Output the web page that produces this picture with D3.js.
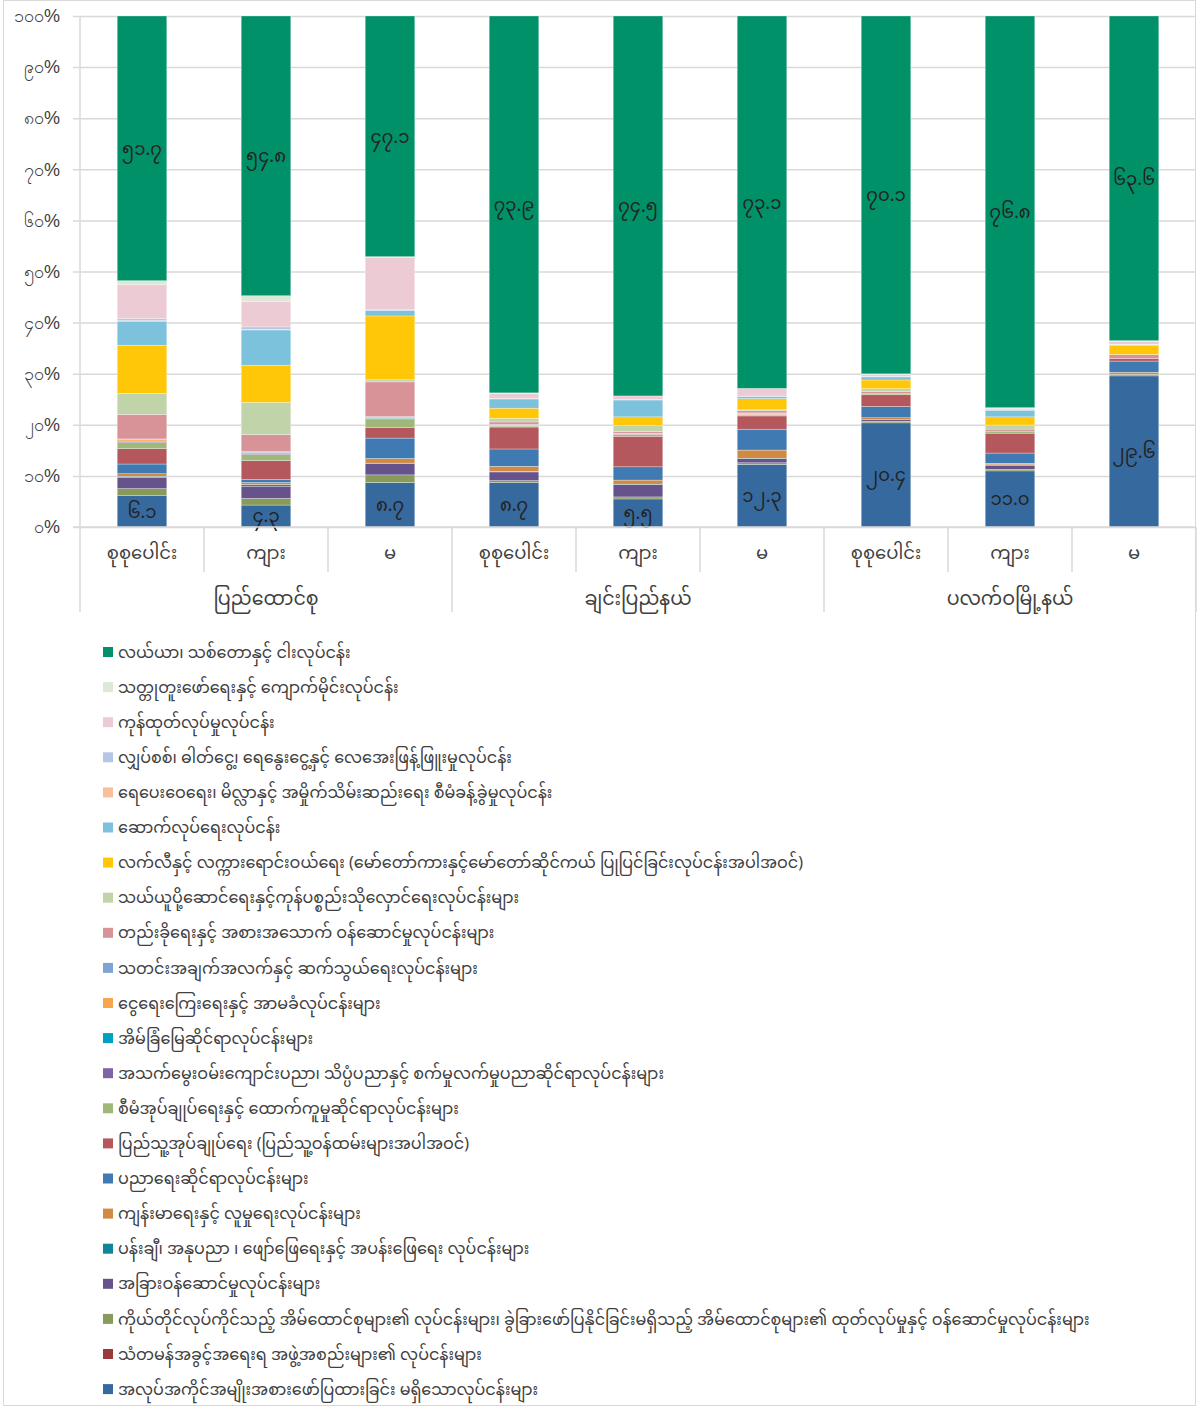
<!DOCTYPE html>
<html>
<head>
<meta charset="utf-8">
<script src="https://cdn.jsdelivr.net/npm/d3@7"></script>
<style>
  body { margin: 0; background: #fff; }
  svg { font-family: "Noto Sans Myanmar", "Padauk", "Myanmar Text", "Noto Sans", sans-serif; }
</style>
</head>
<body>
<svg></svg>
<script>
// bars, left to right
var groups = ['ပြည်ထောင်စု', 'ချင်းပြည်နယ်', 'ပလက်ဝမြို့နယ်'];
var sexes = ['စုစုပေါင်း', 'ကျား', 'မ'];

// series from the bottom of each stack upward
var seriesNames = [
  'အလုပ်အကိုင်အမျိုးအစားဖော်ပြထားခြင်း မရှိသောလုပ်ငန်းများ',
  'သံတမန်အခွင့်အရေးရ အဖွဲ့အစည်းများ၏ လုပ်ငန်းများ',
  'ကိုယ်တိုင်လုပ်ကိုင်သည့် အိမ်ထောင်စုများ၏ လုပ်ငန်းများ၊ ခွဲခြားဖော်ပြနိုင်ခြင်းမရှိသည့် အိမ်ထောင်စုများ၏ ထုတ်လုပ်မှုနှင့် ဝန်ဆောင်မှုလုပ်ငန်းများ',
  'အခြားဝန်ဆောင်မှုလုပ်ငန်းများ',
  'ပန်းချီ၊ အနုပညာ ၊ ဖျော်ဖြေရေးနှင့် အပန်းဖြေရေး လုပ်ငန်းများ',
  'ကျန်းမာရေးနှင့် လူမှုရေးလုပ်ငန်းများ',
  'ပညာရေးဆိုင်ရာလုပ်ငန်းများ',
  'ပြည်သူ့အုပ်ချုပ်ရေး (ပြည်သူ့ဝန်ထမ်းများအပါအဝင်)',
  'စီမံအုပ်ချုပ်ရေးနှင့် ထောက်ကူမှုဆိုင်ရာလုပ်ငန်းများ',
  'အသက်မွေးဝမ်းကျောင်းပညာ၊ သိပ္ပံပညာနှင့် စက်မှုလက်မှုပညာဆိုင်ရာလုပ်ငန်းများ',
  'အိမ်ခြံမြေဆိုင်ရာလုပ်ငန်းများ',
  'ငွေရေးကြေးရေးနှင့် အာမခံလုပ်ငန်းများ',
  'သတင်းအချက်အလက်နှင့် ဆက်သွယ်ရေးလုပ်ငန်းများ',
  'တည်းခိုရေးနှင့် အစားအသောက် ဝန်ဆောင်မှုလုပ်ငန်းများ',
  'သယ်ယူပို့ဆောင်ရေးနှင့်ကုန်ပစ္စည်းသိုလှောင်ရေးလုပ်ငန်းများ',
  'လက်လီနှင့် လက္ကားရောင်းဝယ်ရေး (မော်တော်ကားနှင့်မော်တော်ဆိုင်ကယ် ပြုပြင်ခြင်းလုပ်ငန်းအပါအဝင်)',
  'ဆောက်လုပ်ရေးလုပ်ငန်း',
  'ရေပေးဝေရေး၊ မိလ္လာနှင့် အမှိုက်သိမ်းဆည်းရေး စီမံခန့်ခွဲမှုလုပ်ငန်း',
  'လျှပ်စစ်၊ ဓါတ်ငွေ့၊ ရေနွေးငွေ့နှင့် လေအေးဖြန့်ဖြူးမှုလုပ်ငန်း',
  'ကုန်ထုတ်လုပ်မှုလုပ်ငန်း',
  'သတ္တုတူးဖော်ရေးနှင့် ကျောက်မိုင်းလုပ်ငန်း',
  'လယ်ယာ၊ သစ်တောနှင့် ငါးလုပ်ငန်း'
];

var seriesColors = [
  '#36699d', '#9a3a3f', '#889b5b', '#67538c', '#10849b', '#d18a43',
  '#3f7ab3', '#b5585d', '#9eb87a', '#8064a8', '#00a0c0', '#f7a54e',
  '#7fa4d4', '#d79398', '#c1d3a9', '#ffc708', '#7dc2dc', '#f8bf9a',
  '#b4c7e7', '#edcbd5', '#dde8d8', '#009169'
];

// percent shares, one array per bar, same order as seriesNames
var values = [
  [6.1, 0.0, 1.4, 2.2, 0.2, 0.5, 1.9, 3.0, 1.2, 0.2, 0.1, 0.3, 0.1, 4.8, 4.1, 9.4, 4.7, 0.1, 0.4, 6.6, 0.8, 51.7],
  [4.3, 0.0, 1.3, 2.4, 0.3, 0.4, 0.6, 3.7, 1.2, 0.2, 0.1, 0.1, 0.2, 3.3, 6.3, 7.3, 6.9, 0.1, 0.5, 5.0, 1.1, 54.8],
  [8.7, 0.0, 1.5, 2.2, 0.1, 0.9, 4.0, 2.1, 1.5, 0.2, 0.1, 0.2, 0.1, 6.8, 0.4, 12.5, 1.1, 0.0, 0.1, 10.3, 0.1, 47.1],
  [8.7, 0.0, 0.4, 1.7, 0.1, 1.0, 3.4, 4.3, 0.2, 0.1, 0.0, 0.1, 0.1, 0.5, 0.7, 2.0, 1.8, 0.0, 0.1, 1.0, 0.1, 73.9],
  [5.5, 0.0, 0.4, 2.4, 0.1, 0.8, 2.6, 6.0, 0.3, 0.1, 0.0, 0.1, 0.1, 0.3, 1.2, 1.7, 3.3, 0.0, 0.1, 0.7, 0.0, 74.5],
  [12.3, 0.0, 0.3, 0.8, 0.1, 1.6, 4.1, 2.6, 0.2, 0.1, 0.0, 0.2, 0.1, 0.5, 0.1, 2.2, 0.4, 0.0, 0.1, 1.5, 0.0, 73.1],
  [20.4, 0.0, 0.3, 0.3, 0.0, 0.4, 2.2, 2.3, 0.2, 0.0, 0.0, 0.0, 0.0, 0.4, 0.6, 1.7, 0.6, 0.0, 0.1, 0.4, 0.1, 70.1],
  [11.0, 0.0, 0.3, 0.8, 0.1, 0.3, 2.0, 3.9, 0.4, 0.0, 0.0, 0.0, 0.0, 0.4, 0.8, 1.6, 1.3, 0.0, 0.1, 0.3, 0.1, 76.8],
  [29.6, 0.0, 0.3, 0.0, 0.0, 0.4, 2.2, 0.5, 0.0, 0.0, 0.0, 0.0, 0.0, 0.8, 0.0, 1.8, 0.1, 0.0, 0.1, 0.6, 0.1, 63.6]
];

// only these series carry data labels
var labelledSeries = [0, 21];

var yTicks = [0, 0.1, 0.2, 0.3, 0.4, 0.5, 0.6, 0.7, 0.8, 0.9, 1];
var yTickLabels = ['၀%', '၁၀%', '၂၀%', '၃၀%', '၄၀%', '၅၀%', '၆၀%', '၇၀%', '၈၀%', '၉၀%', '၁၀၀%'];

var width = 1200, height = 1410;
var plotLeft = 80, plotRight = 1196, plotTop = 16, plotBottom = 527;

var mmDigits = '၀၁၂၃၄၅၆၇၈၉';
function toMyanmar(s) {
  return String(s).replace(/[0-9]/g, d => mmDigits[+d]);
}

var bars = [];
groups.forEach((g, gi) => sexes.forEach((s, si) => {
  var row = { key: gi * 3 + si, group: g, sex: s };
  values[gi * 3 + si].forEach((v, k) => row['s' + k] = v);
  bars.push(row);
}));

var svg = d3.select('svg')
  .attr('width', width)
  .attr('height', height);

// outer frame
svg.append('rect')
  .attr('x', 3.5).attr('y', 0.5)
  .attr('width', 1192).attr('height', 1405)
  .attr('fill', 'none')
  .attr('stroke', '#d9d9d9');

var x = d3.scaleBand()
  .domain(bars.map(d => d.key))
  .range([plotLeft, plotRight])
  .paddingInner(0.6)
  .paddingOuter(0.3);

var y = d3.scaleLinear()
  .domain([0, 1])
  .range([plotBottom, plotTop]);

// grid + y axis (ticks drawn leftward from the right edge)
var gridLen = plotRight - plotLeft + 7;
var gy = svg.append('g')
  .attr('transform', 'translate(' + plotRight + ',0)')
  .call(d3.axisLeft(y)
    .tickValues(yTicks)
    .tickFormat((d, i) => yTickLabels[i])
    .tickSize(gridLen)
    .tickPadding(13));
gy.select('.domain').remove();
gy.selectAll('.tick line')
  .attr('stroke', '#d9d9d9')
  .attr('stroke-width', 1.5);
gy.selectAll('.tick text')
  .attr('font-size', 18)
  .attr('fill', '#404040');

// vertical axis line
svg.append('line')
  .attr('x1', plotLeft).attr('x2', plotLeft)
  .attr('y1', plotTop).attr('y2', plotBottom)
  .attr('stroke', '#d9d9d9').attr('stroke-width', 1.5);

// 100% stacked bars
var stack = d3.stack()
  .keys(seriesNames.map((n, k) => 's' + k))
  .offset(d3.stackOffsetExpand);
var layers = stack(bars);

svg.append('g').selectAll('g')
  .data(layers)
  .join('g')
  .attr('fill', (d, i) => seriesColors[i])
  .selectAll('rect')
  .data(d => d)
  .join('rect')
  .attr('x', d => x(d.data.key))
  .attr('width', x.bandwidth())
  .attr('y', d => y(d[1]))
  .attr('height', d => Math.max(0, y(d[0]) - y(d[1])))
  .attr('stroke', '#fff')
  .attr('stroke-opacity', 0.6)
  .attr('stroke-width', 0.5);

// data labels
labelledSeries.forEach(k => {
  svg.append('g').selectAll('text')
    .data(layers[k])
    .join('text')
    .attr('x', d => x(d.data.key) + x.bandwidth() / 2)
    .attr('y', d => (y(d[0]) + y(d[1])) / 2)
    .attr('dy', '0.35em')
    .attr('text-anchor', 'middle')
    .attr('font-size', 18)
    .attr('fill', '#222')
    .text(d => toMyanmar(d.data['s' + k].toFixed(1)));
});

// category axis: separators and labels
var step = x.step();
var catAxis = svg.append('g');
d3.range(bars.length + 1).forEach(i => {
  var xx = plotLeft + i * step;
  var long = i % 3 === 0;
  catAxis.append('line')
    .attr('x1', xx).attr('x2', xx)
    .attr('y1', plotBottom).attr('y2', long ? 612 : 572)
    .attr('stroke', '#d9d9d9').attr('stroke-width', 1.5);
});
catAxis.append('line')
  .attr('x1', plotLeft - 7).attr('x2', plotRight)
  .attr('y1', plotBottom).attr('y2', plotBottom)
  .attr('stroke', '#d9d9d9').attr('stroke-width', 1.5);

catAxis.selectAll('text.cat')
  .data(bars)
  .join('text')
  .attr('class', 'cat')
  .attr('x', d => x(d.key) + x.bandwidth() / 2)
  .attr('y', 553)
  .attr('dy', '0.35em')
  .attr('text-anchor', 'middle')
  .attr('font-size', 18)
  .attr('fill', '#404040')
  .text(d => d.sex);

catAxis.selectAll('text.grp')
  .data(groups)
  .join('text')
  .attr('class', 'grp')
  .attr('x', (d, i) => plotLeft + (i * 3 + 1.5) * step)
  .attr('y', 598)
  .attr('dy', '0.35em')
  .attr('text-anchor', 'middle')
  .attr('font-size', 19)
  .attr('fill', '#404040')
  .text(d => d);

// legend, top item is the top of the stack
var legendOrder = d3.range(seriesNames.length).reverse();
var legend = svg.append('g')
  .selectAll('g')
  .data(legendOrder)
  .join('g')
  .attr('transform', (d, i) => 'translate(103,' + (652 + i * 35.1) + ')');

legend.append('rect')
  .attr('x', 0).attr('y', -5)
  .attr('width', 10).attr('height', 10)
  .attr('fill', d => seriesColors[d]);

legend.append('text')
  .attr('x', 15)
  .attr('dy', '0.35em')
  .attr('font-size', 16)
  .attr('fill', '#404040')
  .text(d => seriesNames[d]);
</script>
</body>
</html>
